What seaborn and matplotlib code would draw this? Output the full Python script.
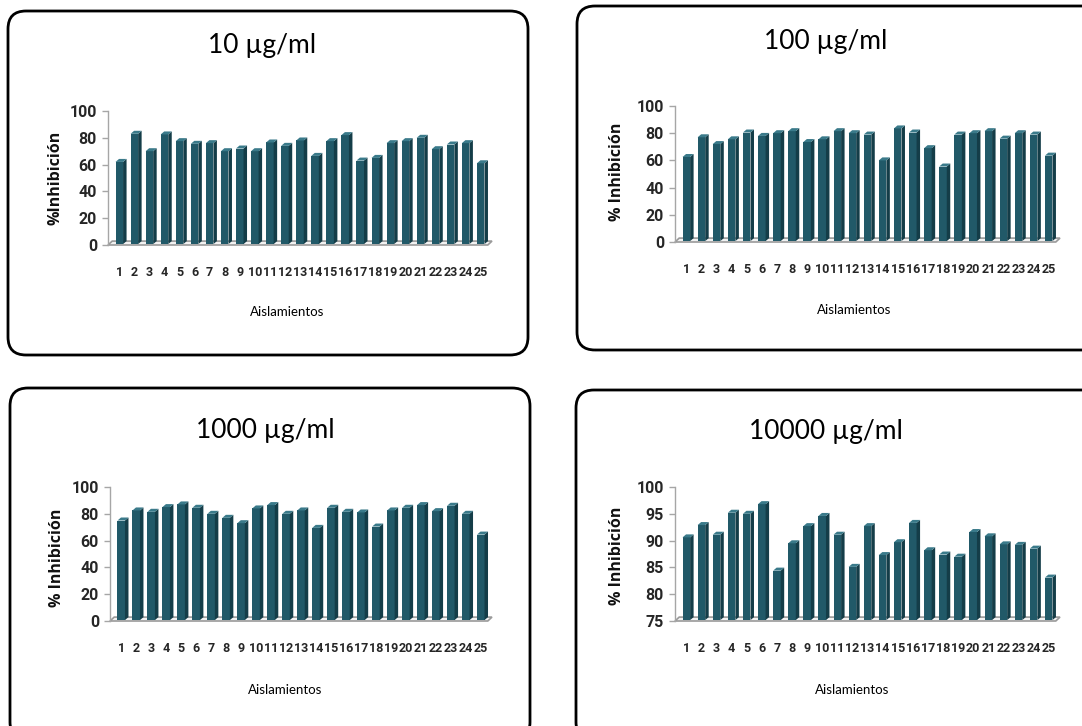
import numpy as np
import pandas as pd
import matplotlib
matplotlib.use("Agg")
import matplotlib.pyplot as plt
from matplotlib.patches import FancyBboxPatch, Polygon, Rectangle
from matplotlib.transforms import IdentityTransform
import seaborn as sns

# Isolates 1..25
isolates = [str(i) for i in range(1, 26)]

# Percent inhibition per isolate at each concentration
inh_10 = [62, 83, 70, 82.5, 77.5, 75.5, 76, 70, 72, 70, 76.5, 74, 78, 66.5, 77.5,
          82, 63, 65, 76, 77.5, 80, 71.5, 75, 76, 61]
inh_100 = [62.5, 77, 72, 75.5, 80.5, 78, 80, 81.5, 73.5, 75.5, 81.5, 80, 79, 60, 83.5,
           80.5, 69, 55.5, 79, 80, 81.5, 76, 80, 79, 63.5]
inh_1000 = [75, 82.5, 81.5, 85, 87, 84.5, 80, 77, 73, 84, 86.5, 80, 82.5, 69.5, 84.5,
            81.5, 81, 70.5, 82.5, 84.5, 86.5, 82, 86, 80, 64.5]
inh_10000 = [90.6, 92.9, 91.1, 95.2, 95.0, 96.8, 84.4, 89.5, 92.7, 94.6, 91.1, 85.1, 92.7,
             87.3, 89.7, 93.3, 88.2, 87.4, 87.0, 91.6, 90.8, 89.3, 89.2, 88.5, 83.1]

titles = ["10 \u00b5g/ml", "100 \u00b5g/ml", "1000 \u00b5g/ml", "10000 \u00b5g/ml"]
ylabels = ["%Inhibici\u00f3n", "% Inhibici\u00f3n", "% Inhibici\u00f3n", "% Inhibici\u00f3n"]
xlabel = "Aislamientos"

sns.set_theme(style="white")
plt.rcParams["font.family"] = ["Lato", "DejaVu Sans"]

W, H = 1082, 726
DPI = 100
fig = plt.figure(figsize=(W / DPI, H / DPI), dpi=DPI)
fig.patch.set_facecolor("white")

FRONT = "#215968"
SIDE = "#143d48"
TOP = "#3a7a8a"
FLOOR_FACE = "#f2f2f2"
FLOOR_EDGE = "#9a9a9a"
TICKFONT = ["Roboto", "DejaVu Sans"]


def fx(x):
    return x / W


def fy(y):
    return 1 - y / H


def rounded_box(x0, y0, x1, y1):
    patch = FancyBboxPatch((x0, H - y1), x1 - x0, y1 - y0,
                           boxstyle="round,pad=0,rounding_size=18",
                           transform=IdentityTransform(), facecolor="none",
                           edgecolor="black", linewidth=2.0, zorder=0)
    fig.add_artist(patch)


def panel(values, ylim, step, ax_px, box_px, title, title_xy, ylabel, ylabel_xy, xlabel_xy):
    x0, y0, x1, y1 = ax_px
    rounded_box(*box_px)
    ax = fig.add_axes([fx(x0), fy(y1), (x1 - x0) / W, (y1 - y0) / H])
    ax.set_facecolor("none")
    df = pd.DataFrame({"Aislamiento": isolates, "Inhibicion": values})
    sns.barplot(data=df, x="Aislamiento", y="Inhibicion", order=isolates,
                color=FRONT, saturation=1, width=0.5, ax=ax, zorder=3,
                linewidth=0, errorbar=None)
    ymin, ymax = ylim
    xl, xr = -0.75, 24.75
    ax.set_xlim(xl, xr)
    ax.set_ylim(ymin, ymax)

    # pixel depth offsets converted to data units
    ddx = 3.5 * (xr - xl) / (x1 - x0)
    ddy = 3.0 * (ymax - ymin) / (y1 - y0)

    # floor of the chart
    floor = Polygon([(xl, ymin), (xr - ddx * 1.2, ymin), (xr, ymin + ddy * 1.3),
                     (xl + ddx * 1.2, ymin + ddy * 1.3)], closed=True,
                    facecolor=FLOOR_FACE, edgecolor=FLOOR_EDGE, linewidth=1.2,
                    zorder=1, clip_on=False)
    ax.add_patch(floor)

    # depth faces of each bar
    for bar in list(ax.patches):
        if not isinstance(bar, Rectangle):
            continue
        bx = bar.get_x()
        bw = bar.get_width()
        h = bar.get_height()
        if bw <= 0:
            continue
        base = ymin + ddy * 0.3
        bar.set_y(base)
        bar.set_height(h - base)
        side = Polygon([(bx + bw, base), (bx + bw + ddx, base + ddy),
                        (bx + bw + ddx, h + ddy), (bx + bw, h)], closed=True,
                       facecolor=SIDE, edgecolor="none", zorder=3)
        top = Polygon([(bx, h), (bx + ddx, h + ddy), (bx + bw + ddx, h + ddy),
                       (bx + bw, h)], closed=True, facecolor=TOP,
                      edgecolor="none", zorder=3)
        ax.add_patch(side)
        ax.add_patch(top)

    sns.despine(ax=ax, top=True, right=True, bottom=True, left=False)
    ax.spines["left"].set_color("#a6a6a6")
    ax.spines["left"].set_linewidth(1.0)
    ax.set_yticks(np.arange(ymin, ymax + 0.1, step))
    ax.tick_params(axis="y", which="both", left=True, length=4, width=1,
                   color="#a6a6a6", pad=4)
    ax.tick_params(axis="x", which="both", bottom=False, length=0, pad=15)
    for lab in ax.get_yticklabels():
        lab.set_fontfamily(TICKFONT)
        lab.set_fontweight("bold")
        lab.set_fontsize(11.5)
    for lab in ax.get_xticklabels():
        lab.set_fontfamily(TICKFONT)
        lab.set_fontweight("bold")
        lab.set_fontsize(9)
    ax.set_xlabel("")
    ax.set_ylabel("")

    fig.text(fx(title_xy[0]), fy(title_xy[1]), title, ha="center", va="center",
             fontsize=19, color="black")
    fig.text(fx(ylabel_xy[0]), fy(ylabel_xy[1]), ylabel, ha="center", va="center",
             rotation=90, fontsize=11.5, fontweight="bold", color="#111111",
             family=["Open Sans", "DejaVu Sans"])
    fig.text(fx(xlabel_xy[0]), fy(xlabel_xy[1]), xlabel, ha="center", va="center",
             fontsize=9.5, color="black")
    return ax


panel(inh_10, (0, 100), 20, (108, 111, 492, 245), (8, 11, 528, 355),
      titles[0], (262, 45), ylabels[0], (55, 178), (287, 312))
panel(inh_100, (0, 100), 20, (675, 106, 1060, 242), (577, 6, 1100, 350),
      titles[1], (826, 41), ylabels[1], (617, 172), (854, 310))
panel(inh_1000, (0, 100), 20, (110, 487, 492, 621), (10, 388, 530, 740),
      titles[2], (265, 431), ylabels[2], (57, 558), (285, 690))
panel(inh_10000, (75, 100), 5, (675, 487, 1060, 621), (576, 390, 1100, 740),
      titles[3], (826, 432), ylabels[3], (617, 556), (852, 690))

fig.savefig("out.png", dpi=DPI)
